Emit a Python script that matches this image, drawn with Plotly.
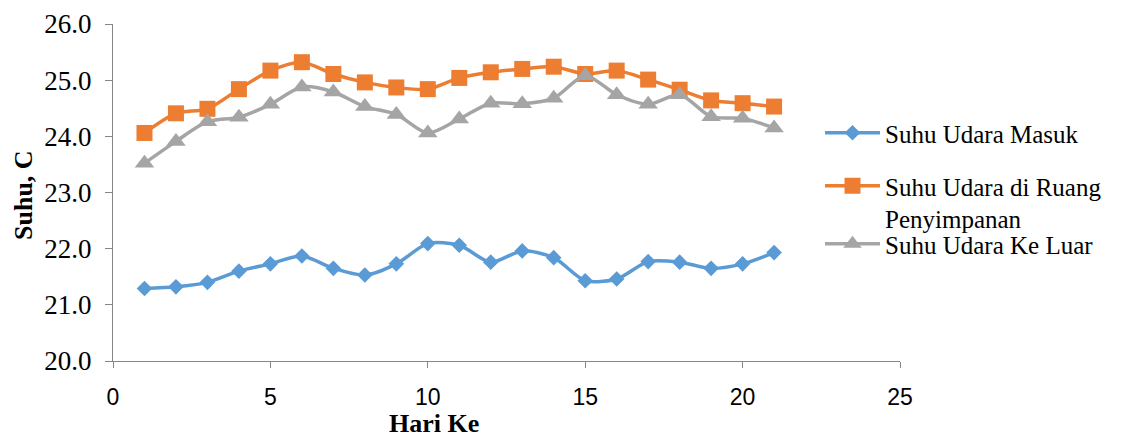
import plotly.graph_objects as go

# Day index
hari = list(range(1, 22))

# Temperatures (°C)
suhu_masuk = [21.29, 21.32, 21.40, 21.60, 21.73, 21.87, 21.65, 21.53, 21.73, 22.09, 22.06,
              21.76, 21.96, 21.84, 21.43, 21.46, 21.77, 21.76, 21.65, 21.73, 21.93]
suhu_ruang = [24.06, 24.41, 24.49, 24.84, 25.17, 25.32, 25.11, 24.96, 24.87, 24.84, 25.04,
              25.14, 25.20, 25.24, 25.11, 25.17, 25.01, 24.83, 24.64, 24.59, 24.53]
suhu_luar = [23.52, 23.91, 24.26, 24.34, 24.57, 24.88, 24.79, 24.53, 24.39, 24.06, 24.31,
             24.59, 24.58, 24.68, 25.08, 24.74, 24.57, 24.74, 24.35, 24.32, 24.15]

series_names = ["Suhu Udara Masuk", "Suhu Udara di Ruang<br>Penyimpanan", "Suhu Udara Ke Luar"]
y_ticks = [20, 21, 22, 23, 24, 25, 26]
x_ticks = [0, 5, 10, 15, 20, 25]

W, H = 1122, 437
SERIF = "Liberation Serif"
SANS = "Liberation Sans"

styles = [
    dict(color="#5B9BD5", symbol="diamond", size=12),
    dict(color="#ED7D31", symbol="square", size=16),
    dict(color="#A5A5A5", symbol="triangle-up", size=17),
]
series = [suhu_masuk, suhu_ruang, suhu_luar]
legend_ids = ["legend", "legend2", "legend3"]

fig = go.Figure()
for name, vals, st, lg in zip(series_names, series, styles, legend_ids):
    fig.add_trace(go.Scatter(
        x=hari, y=vals, name=name, mode="lines+markers",
        line=dict(color=st["color"], width=3.5, shape="spline", smoothing=0.8),
        marker=dict(color=st["color"], symbol=st["symbol"], size=st["size"]),
        legend=lg,
    ))

legend_common = dict(
    xref="container", yref="container", xanchor="left", yanchor="top",
    font=dict(family=SERIF, size=25, color="#000000"),
    bgcolor="rgba(0,0,0,0)", itemwidth=55, valign="top",
    itemclick=False, itemdoubleclick=False,
)
legend_tops = [110, 163, 221]

axis_line = "#868686"
fig.update_layout(
    width=W, height=H,
    margin=dict(l=113, r=222, t=24, b=76, autoexpand=False),
    paper_bgcolor="white", plot_bgcolor="white",
    font=dict(family=SERIF, color="#000000"),
    showlegend=True,
    xaxis=dict(
        range=[0, 25], tickvals=x_ticks, showgrid=False, zeroline=False,
        showline=True, linecolor=axis_line, linewidth=1.3,
        ticks="outside", ticklen=6, tickcolor=axis_line, tickwidth=1.3,
        tickfont=dict(family=SANS, size=23, color="#000000"),
        ticklabelstandoff=9,
    ),
    yaxis=dict(
        range=[20, 26], tickvals=y_ticks, tickformat=".1f", showgrid=False, zeroline=False,
        showline=True, linecolor=axis_line, linewidth=1.3,
        ticks="outside", ticklen=7, tickcolor=axis_line, tickwidth=1.3,
        tickfont=dict(family=SERIF, size=27, color="#000000"),
        ticklabelstandoff=8,
    ),
    annotations=[
        dict(text="<b>Hari Ke</b>", xref="paper", yref="paper",
             x=(434 - 113) / (900 - 113), y=-(424 - 361) / (361 - 24),
             xanchor="center", yanchor="middle", showarrow=False,
             font=dict(family=SERIF, size=26, color="#000000")),
        dict(text="<b>Suhu, C</b>", xref="paper", yref="paper",
             x=-(113 - 23) / (900 - 113), y=(361 - 195) / (361 - 24),
             xanchor="center", yanchor="middle", textangle=-90, showarrow=False,
             font=dict(family=SERIF, size=26, color="#000000")),
    ],
)
for lg, top in zip(legend_ids, legend_tops):
    fig.update_layout({lg: dict(legend_common, x=820 / W, y=1 - top / H)})

fig.write_html("out.html")
